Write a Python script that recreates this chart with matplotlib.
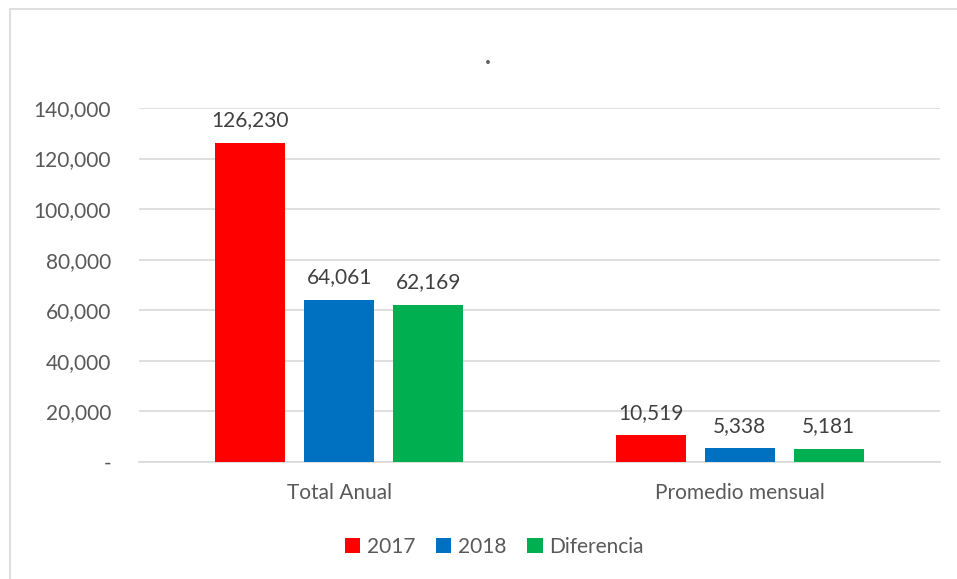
import numpy as np
import matplotlib.pyplot as plt
from matplotlib.patches import Rectangle

plt.rcParams['font.family'] = ['Lato', 'DejaVu Sans']

categories = ["Total Anual", "Promedio mensual"]
series_names = ["2017", "2018", "Diferencia"]
values_2017 = [126230, 10519]
values_2018 = [64061, 5338]
values_diff = [62169, 5181]
colors = ["#ff0000", "#0070c0", "#00b050"]
yticks = [0, 20000, 40000, 60000, 80000, 100000, 120000, 140000]

text_col = "#595959"
fs = 15

fig = plt.figure(figsize=(9.57, 5.79), dpi=100)
ax = fig.add_axes([0.1452, 0.2021, 0.8370, 0.6114])

# light chart border
fig.patches.append(Rectangle((10 / 957, -0.05), 1.0, 1 - 9 / 579 + 0.05,
                             transform=fig.transFigure, fill=False,
                             edgecolor="#d9d9d9", linewidth=1.2))

x = np.arange(len(categories))
width = 0.175
step = 0.222
for i, (name, vals, c) in enumerate(zip(series_names,
                                         [values_2017, values_2018, values_diff],
                                         colors)):
    pos = x + (i - 1) * step
    ax.bar(pos, vals, width=width, color=c, label=name, zorder=3)
    for px, v in zip(pos, vals):
        ax.text(px, v + 5000, f"{v:,}", ha="center", va="bottom",
                fontsize=fs, color="#404040")

ax.set_xlim(-0.5, 1.5)
ax.set_ylim(0, 140000)
ax.set_yticks(yticks)
ax.set_yticklabels(["-" if t == 0 else f"{t:,}" for t in yticks])
ax.set_xticks(x)
ax.set_xticklabels(categories)
ax.tick_params(axis="both", length=0, labelsize=fs, labelcolor=text_col)
ax.tick_params(axis="y", pad=20)
ax.tick_params(axis="x", pad=15)
ax.grid(axis="y", color="#d9d9d9", linewidth=1.2, zorder=0)
for s in ["top", "right", "left"]:
    ax.spines[s].set_visible(False)
ax.spines["bottom"].set_color("#d9d9d9")
ax.spines["bottom"].set_linewidth(1.2)

fig.text(488 / 957, 1 - 56 / 579, ".", ha="center", va="center",
         fontsize=18, fontweight="bold", color=text_col)

fig.legend(loc="center", bbox_to_anchor=(494 / 957, 1 - 547 / 579), ncol=3,
           frameon=False, fontsize=fs, labelcolor=text_col,
           handlelength=0.75, handleheight=0.75, handletextpad=0.3,
           columnspacing=1.0)

fig.savefig("out.png", dpi=100)
